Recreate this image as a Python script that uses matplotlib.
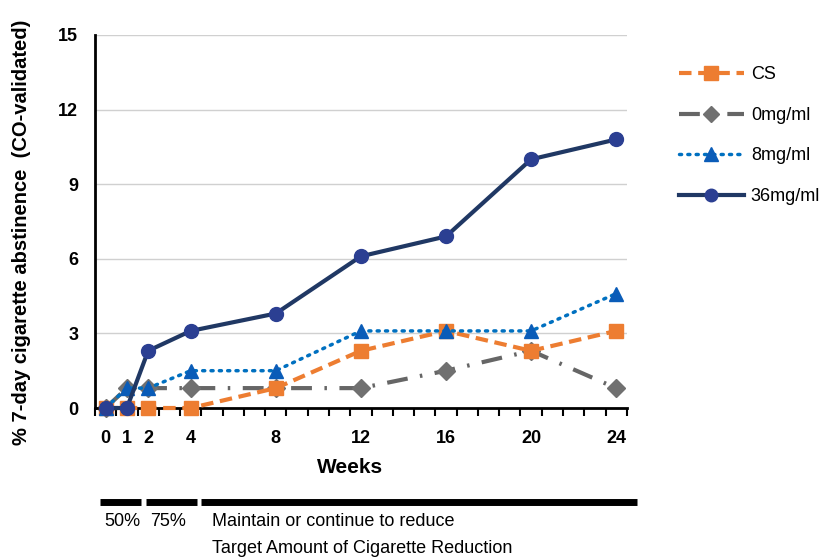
import matplotlib
matplotlib.use("Agg")
import matplotlib.pyplot as plt
import matplotlib.transforms as mtransforms

plt.rcParams['font.family'] = ['Liberation Sans', 'DejaVu Sans']

weeks = [0, 1, 2, 4, 8, 12, 16, 20, 24]
cs = [0, 0, 0, 0, 0.8, 2.3, 3.1, 2.3, 3.1]
mg0 = [0, 0.8, 0.8, 0.8, 0.8, 0.8, 1.5, 2.3, 0.8]
mg8 = [0, 0.8, 0.8, 1.5, 1.5, 3.1, 3.1, 3.1, 4.6]
mg36 = [0, 0, 2.3, 3.1, 3.8, 6.1, 6.9, 10.0, 10.8]
series_names = ["CS", "0mg/ml", "8mg/ml", "36mg/ml"]
yticks = [0, 3, 6, 9, 12, 15]
phase_labels = ["50%", "75%", "Maintain or continue to reduce"]
phase_spans = [(-0.25, 1.65), (1.9, 4.3), (4.5, 25.0)]

fig = plt.figure(figsize=(8.31, 5.58), dpi=100)
ax = fig.add_axes([0.1143, 0.2688, 0.64, 0.6685])

ax.plot(weeks, cs, color='#ED7D31', lw=3, dashes=(3, 1.6), marker='s', ms=10.5,
        mfc='#ED7D31', mec='#ED7D31', label=series_names[0], zorder=3, clip_on=False)
ax.plot(weeks, mg0, color='#666666', lw=3, dashes=(5, 3, 0.6, 3), marker='D', ms=9.5,
        mfc='#707070', mec='#707070', label=series_names[1], zorder=2, clip_on=False)
ax.plot(weeks, mg8, color='#0070C0', lw=2.5, linestyle=(0, (0.6, 1.8)), dash_capstyle='round',
        marker='^', ms=10.5, mfc='#0A5CB8', mec='#0A5CB8', label=series_names[2], zorder=4,
        clip_on=False)
ax.plot(weeks, mg36, color='#203864', lw=3, marker='o', ms=10,
        mfc='#2B3F92', mec='#2B3F92', label=series_names[3], zorder=5, clip_on=False)

ax.set_xlim(-0.5, 24.5)
ax.set_ylim(0, 15)
ax.set_yticks(yticks)
ax.set_yticklabels([str(v) for v in yticks], fontsize=13, fontweight='bold')
ax.yaxis.grid(True, color='#D0D0D0', lw=1)
ax.set_axisbelow(True)
ax.tick_params(axis='y', length=0, pad=12)

ax.set_xticks(weeks)
ax.set_xticklabels([str(w) for w in weeks], fontsize=13, fontweight='bold')
ax.set_xticks([i - 0.5 for i in range(26)], minor=True)
ax.tick_params(axis='x', which='major', length=0, pad=16)
ax.tick_params(axis='x', which='minor', length=6, width=1.5, direction='out', color='black')

for s in ['top', 'right']:
    ax.spines[s].set_visible(False)
ax.spines['left'].set_linewidth(2)
ax.spines['bottom'].set_linewidth(2)

ax.set_xlabel("Weeks", fontsize=15, fontweight='bold')
ax.xaxis.set_label_coords(0.48, -0.133)
ax.set_ylabel("% 7-day cigarette abstinence  (CO-validated)", fontsize=14.5,
              fontweight='bold')
ax.yaxis.set_label_coords(-0.12, 0.472)

leg = fig.legend(loc='upper left', bbox_to_anchor=(0.797, 0.91), frameon=False,
                 handlelength=3.6, labelspacing=1.3, fontsize=13, handletextpad=0.4,
                 markerscale=0.9)

# phase bars below axis
trans = mtransforms.blended_transform_factory(ax.transData, fig.transFigure)
text_x = [-0.05, 2.1, 5.0]
for (x0, x1), lab, tx in zip(phase_spans, phase_labels, text_x):
    ax.plot([x0, x1], [0.1, 0.1], color='black', lw=5, transform=trans,
            clip_on=False, solid_capstyle='butt')
    ax.text(tx, 0.065, lab, transform=trans, fontsize=13, va='center', ha='left')
ax.text(text_x[2], 0.017, "Target Amount of Cigarette Reduction",
        transform=trans, fontsize=13, va='center', ha='left')

fig.savefig("out.png", dpi=100)
